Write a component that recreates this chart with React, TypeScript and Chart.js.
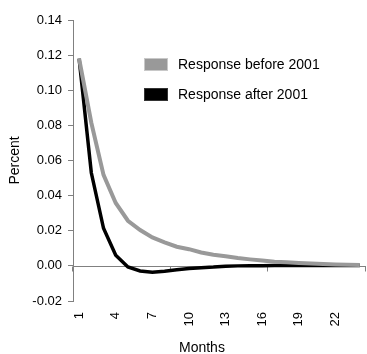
import React, { useEffect, useRef } from "react";
import { Chart, registerables } from "chart.js";

Chart.register(...registerables);

const months = Array.from({ length: 24 }, (_, i) => String(i + 1));
const responseBefore2001 = [
  0.118, 0.0815, 0.0518, 0.0358, 0.0257, 0.0204, 0.0162, 0.0134, 0.0109, 0.0095,
  0.0076, 0.0063, 0.0055, 0.0045, 0.0037, 0.003, 0.0024, 0.002, 0.0016, 0.0013,
  0.001, 0.0008, 0.0006, 0.0005,
];
const responseAfter2001 = [
  0.118, 0.053, 0.0214, 0.0061, -0.0006, -0.0029, -0.0036, -0.003, -0.0022, -0.0015,
  -0.001, -0.0007, -0.0002, 0.0, 0.0001, 0.0001, 0.0002, 0.0002, 0.0002, 0.0002,
  0.0002, 0.0002, 0.0002, 0.0002,
];
const seriesNames = ["Response before 2001", "Response after 2001"];
const xTitle = "Months";
const yTitle = "Percent";
const yMin = -0.02;
const yMax = 0.14;
const yStep = 0.02;

const FONT = "'Liberation Sans', Arial, sans-serif";
const AXIS = "#808080";

const zeroAxisPlugin = {
  id: "zeroAxis",
  beforeDatasetsDraw(chart: any) {
    const { ctx, scales } = chart;
    const x = scales.x;
    const y = scales.y;
    const y0 = Math.round(y.getPixelForValue(0)) + 0.5;
    ctx.save();
    ctx.strokeStyle = AXIS;
    ctx.lineWidth = 1;
    ctx.beginPath();
    ctx.moveTo(x.left, y0);
    ctx.lineTo(x.right, y0);
    const n = months.length;
    for (let i = 0; i <= n; i += 8) {
      const px = Math.round(x.left + ((x.right - x.left) * i) / n) - 0.5;
      ctx.moveTo(px, y0);
      ctx.lineTo(px, y0 + 5);
    }
    ctx.stroke();
    ctx.restore();
  },
};

export default function App() {
  const canvasRef = useRef<HTMLCanvasElement | null>(null);

  useEffect(() => {
    document.body.style.margin = "0";
    const canvas = canvasRef.current;
    if (!canvas) return;
    const chart = new Chart(canvas, {
      type: "line",
      data: {
        labels: months,
        datasets: [
          {
            label: seriesNames[0],
            data: responseBefore2001,
            borderColor: "#999999",
            backgroundColor: "#999999",
            borderWidth: 4,
            pointRadius: 0,
            tension: 0,
          },
          {
            label: seriesNames[1],
            data: responseAfter2001,
            borderColor: "#000000",
            backgroundColor: "#000000",
            borderWidth: 3.5,
            pointRadius: 0,
            tension: 0,
          },
        ],
      },
      options: {
        animation: false,
        responsive: true,
        maintainAspectRatio: false,
        layout: { padding: { top: 20, right: 1, bottom: 0, left: 0 } },
        plugins: {
          legend: { display: false },
          tooltip: { enabled: false },
        },
        scales: {
          x: {
            type: "category",
            offset: true,
            grid: { display: false, drawTicks: false, offset: true },
            border: { display: false },
            ticks: {
              autoSkip: false,
              minRotation: 90,
              maxRotation: 90,
              padding: 11,
              color: "#000",
              font: { family: FONT, size: 13 },
              callback: (_v: any, i: number) => (i % 3 === 0 ? months[i] : ""),
            },
            title: { display: false },
            afterFit: (scale: any) => {
              scale.height = 53;
              scale.paddingLeft = 0;
              scale.paddingRight = 0;
            },
          },
          y: {
            min: yMin,
            max: yMax,
            grid: {
              drawOnChartArea: false,
              drawTicks: true,
              tickLength: 5,
              color: AXIS,
            },
            border: { display: true, color: AXIS, width: 1 },
            ticks: {
              stepSize: yStep,
              padding: 6,
              color: "#000",
              font: { family: FONT, size: 13 },
              callback: (v: any) => Number(v).toFixed(2),
            },
            title: {
              display: true,
              text: yTitle,
              color: "#000",
              font: { family: FONT, size: 14, lineHeight: 1 },
              padding: { top: 8, bottom: 0 },
            },
            afterFit: (scale: any) => {
              scale.width = 73;
              scale.paddingTop = 0;
              scale.paddingBottom = 0;
            },
          },
        },
      },
      plugins: [zeroAxisPlugin],
    });
    return () => chart.destroy();
  }, []);

  const legendItem = (label: string, color: string, border: string, top: number) => (
    <div
      style={{
        position: "absolute",
        left: 144,
        top,
        display: "flex",
        alignItems: "center",
        fontFamily: FONT,
        fontSize: 14,
        color: "#000",
        whiteSpace: "nowrap",
      }}
    >
      <span
        style={{
          display: "inline-block",
          width: 24,
          height: 13,
          boxSizing: "border-box",
          background: color,
          border: `1px solid ${border}`,
          marginRight: 10,
        }}
      />
      <span>{label}</span>
    </div>
  );

  return (
    <div style={{ position: "relative", width: 367, height: 354 }}>
      <canvas ref={canvasRef} />
      {legendItem(seriesNames[0], "#999999", "#c8c8c8", 56)}
      {legendItem(seriesNames[1], "#000000", "#333333", 86)}
      <div
        style={{
          position: "absolute",
          left: 179,
          top: 340,
          fontFamily: FONT,
          fontSize: 14,
          lineHeight: "14px",
          color: "#000",
          whiteSpace: "nowrap",
        }}
      >
        {xTitle}
      </div>
    </div>
  );
}
